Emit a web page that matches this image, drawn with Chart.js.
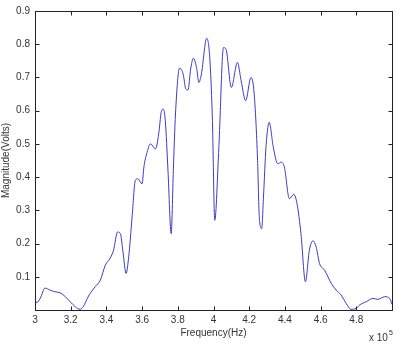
<!DOCTYPE html>
<html>
<head>
<meta charset="utf-8">
<script src="https://cdn.jsdelivr.net/npm/chart.js@4/dist/chart.umd.min.js"></script>
<style>
  html, body { margin: 0; padding: 0; background: #fff; }
  #wrap { width: 399px; height: 343px; }
</style>
</head>
<body>
<div id="wrap"><canvas id="spectrum"></canvas></div>
<script>
// Frequency in units of 1e5 Hz
const freqs = [
  3.00, 3.01, 3.03, 3.056, 3.084, 3.11, 3.14, 3.17, 3.197, 3.225,
  3.253, 3.27, 3.30, 3.337, 3.366, 3.394, 3.42, 3.44, 3.463, 3.478,
  3.493, 3.51, 3.525, 3.544, 3.562, 3.575, 3.60, 3.61, 3.628, 3.647,
  3.675, 3.693, 3.707, 3.718, 3.73, 3.745, 3.763, 3.775, 3.787, 3.81,
  3.83, 3.845, 3.857, 3.872, 3.887, 3.905, 3.918, 3.932, 3.962, 3.979,
  3.994, 4.007, 4.03, 4.056, 4.07, 4.10, 4.134, 4.155, 4.18, 4.21,
  4.228, 4.247, 4.256, 4.27, 4.28, 4.294, 4.312, 4.335, 4.36, 4.378,
  4.397, 4.425, 4.45, 4.468, 4.49, 4.515, 4.537, 4.558, 4.575, 4.594,
  4.622, 4.66, 4.687, 4.715, 4.743, 4.77, 4.80, 4.818, 4.856, 4.894,
  4.92, 4.96, 4.987, 5.00
];
const magnitudes = [
  0.030, 0.022, 0.036, 0.066, 0.060, 0.055, 0.052, 0.040, 0.025, 0.010,
  0.002, 0.010, 0.042, 0.070, 0.090, 0.135, 0.155, 0.180, 0.235, 0.230,
  0.175, 0.110, 0.160, 0.280, 0.390, 0.395, 0.380, 0.430, 0.475, 0.500,
  0.485, 0.530, 0.595, 0.605, 0.570, 0.420, 0.230, 0.420, 0.590, 0.728,
  0.710, 0.665, 0.662, 0.725, 0.758, 0.730, 0.685, 0.710, 0.818, 0.760,
  0.570, 0.270, 0.490, 0.790, 0.785, 0.670, 0.745, 0.690, 0.630, 0.700,
  0.650, 0.450, 0.285, 0.245, 0.340, 0.490, 0.565, 0.490, 0.440, 0.445,
  0.430, 0.335, 0.348, 0.320, 0.230, 0.085, 0.180, 0.208, 0.190, 0.140,
  0.120, 0.080, 0.060, 0.045, 0.020, 0.002, 0.005, 0.015, 0.025, 0.035,
  0.032, 0.040, 0.035, 0.017
];
const xTicks = [3, 3.2, 3.4, 3.6, 3.8, 4, 4.2, 4.4, 4.6, 4.8];
const yTicks = [0.1, 0.2, 0.3, 0.4, 0.5, 0.6, 0.7, 0.8, 0.9];

const points = freqs.map((f, i) => ({ x: f, y: magnitudes[i] }));
const FONT = 'Liberation Sans, Arial, sans-serif';

// MATLAB style box with ticks pointing inward, plus the x 10^5 exponent
const boxPlugin = {
  id: 'matlabBox',
  afterDraw(chart) {
    const { ctx, chartArea: a, scales } = chart;
    const L = Math.round(a.left) + 0.5, R = Math.round(a.right) + 0.5;
    const T = Math.round(a.top) + 0.5, B = Math.round(a.bottom) + 0.5;
    ctx.save();
    ctx.strokeStyle = '#222';
    ctx.lineWidth = 1;
    ctx.strokeRect(L, T, R - L, B - T);
    ctx.beginPath();
    scales.x.ticks.forEach(t => {
      const px = Math.round(scales.x.getPixelForValue(t.value)) + 0.5;
      ctx.moveTo(px, B); ctx.lineTo(px, B - 4);
      ctx.moveTo(px, T); ctx.lineTo(px, T + 4);
    });
    scales.y.ticks.forEach(t => {
      const py = Math.round(scales.y.getPixelForValue(t.value)) + 0.5;
      ctx.moveTo(L, py); ctx.lineTo(L + 4, py);
      ctx.moveTo(R, py); ctx.lineTo(R - 4, py);
    });
    ctx.stroke();

    ctx.fillStyle = '#333';
    ctx.textBaseline = 'alphabetic';
    ctx.font = '10px ' + FONT;
    ctx.fillText('x 10', 369, 341);
    ctx.font = '7px ' + FONT;
    ctx.fillText('5', 389, 335);
    ctx.restore();
  }
};

new Chart(document.getElementById('spectrum'), {
  type: 'line',
  data: {
    datasets: [{
      data: points,
      borderColor: '#3b3bc4',
      borderWidth: 1,
      pointRadius: 0,
      fill: false,
      cubicInterpolationMode: 'monotone'
    }]
  },
  options: {
    responsive: true,
    maintainAspectRatio: false,
    animation: false,
    layout: { padding: { top: 10, right: 7, left: 0, bottom: 0 } },
    plugins: {
      legend: { display: false },
      tooltip: { enabled: false }
    },
    scales: {
      x: {
        type: 'linear',
        min: 3,
        max: 5,
        afterBuildTicks: s => { s.ticks = xTicks.map(v => ({ value: v })); },
        afterFit: s => { s.height = 33; },
        grid: { display: false, drawTicks: false },
        border: { display: false },
        ticks: {
          padding: 4,
          color: '#333',
          font: { family: FONT, size: 10 },
          callback: v => String(+v.toFixed(1))
        },
        title: {
          display: true,
          text: 'Frequency(Hz)',
          color: '#333',
          font: { family: FONT, size: 10 },
          padding: { top: 0, bottom: 4 }
        }
      },
      y: {
        min: 0,
        max: 0.9,
        afterBuildTicks: s => { s.ticks = yTicks.map(v => ({ value: v })); },
        afterFit: s => { s.width = 35; },
        grid: { display: false, drawTicks: false },
        border: { display: false },
        ticks: {
          padding: 5,
          color: '#333',
          font: { family: FONT, size: 10 },
          callback: v => String(+v.toFixed(1))
        },
        title: {
          display: true,
          text: 'Magnitude(Volts)',
          color: '#333',
          font: { family: FONT, size: 10 },
          padding: { top: 0, bottom: 0 }
        }
      }
    }
  },
  plugins: [boxPlugin]
});
</script>
</body>
</html>
